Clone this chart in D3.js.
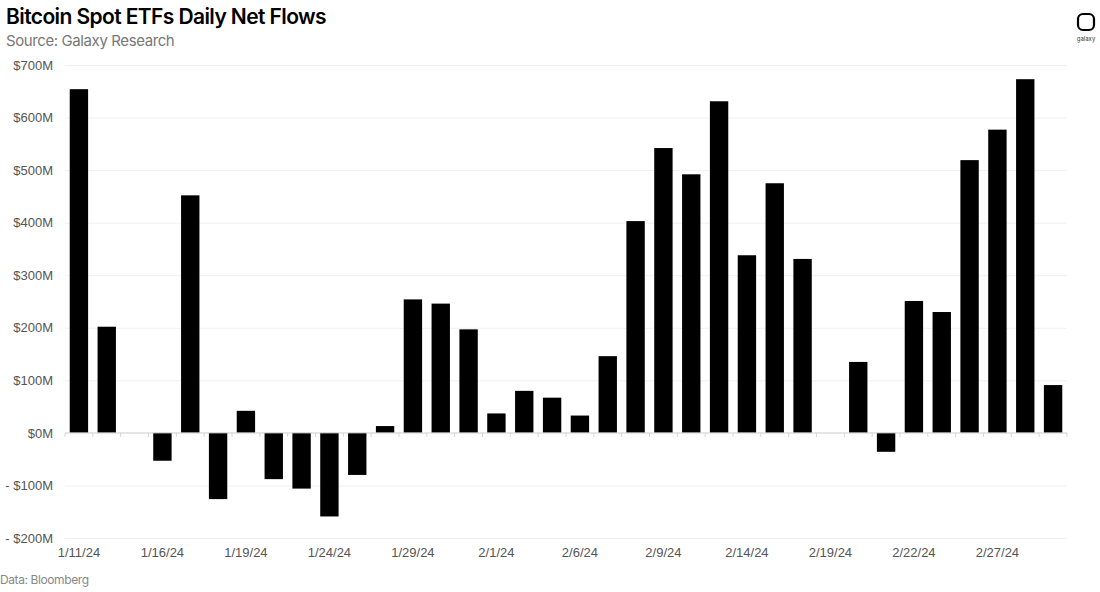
<!DOCTYPE html>
<html>
<head>
<meta charset="utf-8">
<script src="https://cdn.jsdelivr.net/npm/d3@7"></script>
<style>
  body { margin: 0; background: #fff; }
  .title { font-family: Inter, sans-serif; font-weight: 600; font-size: 21px; fill: #000; letter-spacing: -0.6px; }
  .sub { font-family: Inter, sans-serif; font-size: 15px; fill: #777; letter-spacing: -0.4px; }
  .note { font-family: Inter, sans-serif; font-size: 12px; fill: #888; letter-spacing: -0.4px; }
  .tick text { font-family: "Liberation Sans", Arial, sans-serif; font-size: 13px; fill: #555; }
</style>
</head>
<body>
<div id="chart"></div>
<script>
// trading days, 1/11/24 - 2/29/24 (holidays included as zero)
const dates = ["1/11/24","1/12/24","1/15/24","1/16/24","1/17/24","1/18/24","1/19/24",
  "1/22/24","1/23/24","1/24/24","1/25/24","1/26/24",
  "1/29/24","1/30/24","1/31/24","2/1/24","2/2/24",
  "2/5/24","2/6/24","2/7/24","2/8/24","2/9/24",
  "2/12/24","2/13/24","2/14/24","2/15/24","2/16/24",
  "2/19/24","2/20/24","2/21/24","2/22/24","2/23/24",
  "2/26/24","2/27/24","2/28/24","2/29/24"];
// net flows, $M
const flows = [654, 202, 0, -53, 452, -126, 42,
  -88, -106, -159, -80, 13,
  254, 246, 197, 37, 80,
  67, 33, 146, 403, 542,
  492, 631, 338, 475, 331,
  0, 135, -36, 251, 230,
  519, 577, 673, 91];
const shownLabels = ["1/11/24","1/16/24","1/19/24","1/24/24","1/29/24","2/1/24",
  "2/6/24","2/9/24","2/14/24","2/19/24","2/22/24","2/27/24"];
const yTicks = [-200, -100, 0, 100, 200, 300, 400, 500, 600, 700];

const width = 1100, height = 592,
  margin = ({top: 65, right: 33, bottom: 54, left: 65});

const svg = d3.select("#chart").append("svg")
  .attr("width", width).attr("height", height);

const data = dates.map((d, i) => ({date: d, v: flows[i]}));

let x = d3.scaleBand()
  .domain(dates)
  .range([margin.left, width - margin.right])
  .paddingInner(0.34).paddingOuter(0.17);

let y = d3.scaleLinear()
  .domain([-200, 700])
  .range([height - margin.bottom, margin.top]);

// gridlines + y labels
const fmt = d => d < 0 ? "- $" + (-d) + "M" : "$" + d + "M";
svg.append("g")
  .attr("transform", `translate(${margin.left},0)`)
  .call(d3.axisLeft(y).tickValues(yTicks).tickFormat(fmt)
    .tickSize(-(width - margin.left - margin.right)).tickPadding(12))
  .call(g => g.select(".domain").remove())
  .call(g => g.selectAll(".tick line").attr("stroke", "#f0f0f0"));

// bars
svg.append("g").selectAll("rect")
  .data(data)
  .join("rect")
  .attr("x", d => x(d.date))
  .attr("width", x.bandwidth())
  .attr("y", d => y(Math.max(0, d.v)))
  .attr("height", d => Math.abs(y(d.v) - y(0)))
  .attr("fill", "#000");

// zero line with small ticks between bars
const step = x.step();
svg.append("line")
  .attr("x1", margin.left).attr("x2", width - margin.right)
  .attr("y1", y(0)).attr("y2", y(0))
  .attr("stroke", "#d6d6d6");
svg.append("g").selectAll("line")
  .data(d3.range(dates.length + 1))
  .join("line")
  .attr("x1", i => margin.left + i * step)
  .attr("x2", i => margin.left + i * step)
  .attr("y1", y(0)).attr("y2", y(0) + 4)
  .attr("stroke", "#d6d6d6");

// x labels
svg.append("g")
  .attr("transform", `translate(0,${height - margin.bottom})`)
  .call(d3.axisBottom(x).tickValues(shownLabels).tickSize(0).tickPadding(10))
  .call(g => g.select(".domain").remove());

// titles
svg.append("text").attr("class", "title").attr("x", 6).attr("y", 24)
  .text("Bitcoin Spot ETFs Daily Net Flows");
svg.append("text").attr("class", "sub").attr("x", 6).attr("y", 46)
  .text("Source: Galaxy Research");
svg.append("text").attr("class", "note").attr("x", 0).attr("y", 584)
  .text("Data: Bloomberg");

// logo
const logo = svg.append("g").attr("transform", "translate(1086,22)");
logo.append("rect").attr("x", -8).attr("y", -8).attr("width", 16).attr("height", 16)
  .attr("rx", 5).attr("fill", "none").attr("stroke", "#000").attr("stroke-width", 2.2);
logo.append("text").attr("y", 19).attr("text-anchor", "middle")
  .attr("font-family", "Inter, sans-serif").attr("font-size", 6).attr("fill", "#333")
  .text("galaxy");
</script>
</body>
</html>
